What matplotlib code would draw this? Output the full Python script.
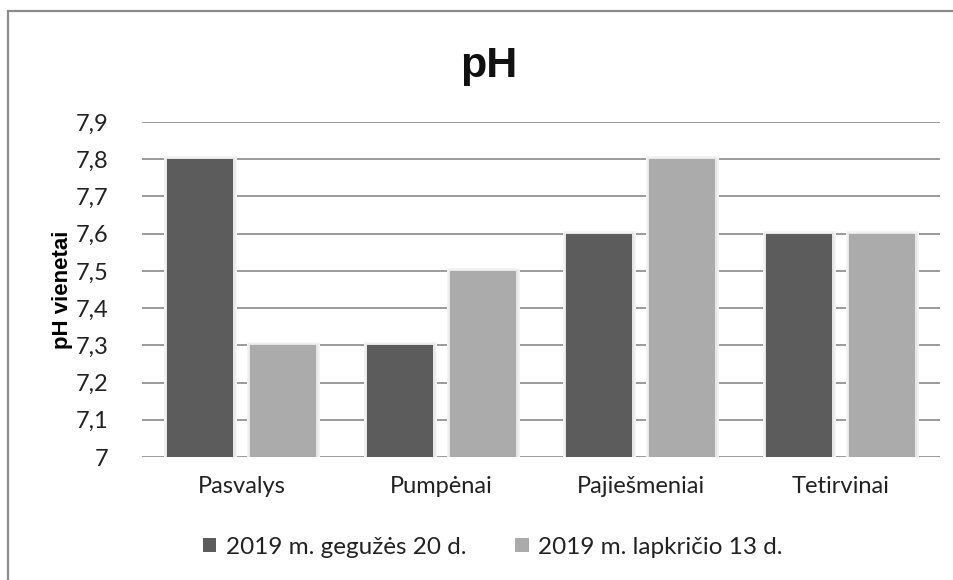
import matplotlib
matplotlib.use("Agg")
import matplotlib.pyplot as plt
import matplotlib.patheffects as pe
from matplotlib.patches import Rectangle, Patch
from matplotlib.ticker import FixedLocator, FuncFormatter
import numpy as np

categories = ["Pasvalys", "Pumpėnai", "Pajiešmeniai", "Tetirvinai"]
series_names = ["2019 m. gegužės 20 d.", "2019 m. lapkričio 13 d."]
may_values = [7.8, 7.3, 7.6, 7.6]
nov_values = [7.3, 7.5, 7.8, 7.6]
y_ticks = [7.0, 7.1, 7.2, 7.3, 7.4, 7.5, 7.6, 7.7, 7.8, 7.9]

colors = ["#5c5c5c", "#ababab"]
base = 7.0

fig = plt.figure(figsize=(9.54, 5.80), dpi=100)
fig.patch.set_facecolor("white")

# outer chart frame (only left and top edges fall inside the image)
fig.patches.append(Rectangle((8.5 / 954, -0.1), 1.2, 1 - 10.5 / 580 + 0.1,
                             transform=fig.transFigure, fill=False,
                             edgecolor="#8c8c8c", linewidth=1.6, zorder=0))

ax = fig.add_axes([142 / 954, 1 - 457 / 580, (940 - 142) / 954, (457 - 122) / 580])
ax.set_ylim(7.0, 7.9)
ax.set_xlim(-0.5, len(categories) - 0.5)

x = np.arange(len(categories))
bar_w = 0.33
gap = 0.085
offsets = [-(bar_w + gap) / 2, (bar_w + gap) / 2]

halo = [pe.Stroke(linewidth=5, foreground="#f4f4f4"),
        pe.Stroke(linewidth=2.5, foreground="#e6e6e6"),
        pe.Normal()]

for vals, off, col, name in zip([may_values, nov_values], offsets, colors, series_names):
    heights = [v - base for v in vals]
    bars = ax.bar(x + off, heights, width=bar_w, bottom=base, color=col,
                  edgecolor="none", zorder=3, label=name)
    for b in bars:
        b.set_path_effects(halo)

ax.yaxis.set_major_locator(FixedLocator(y_ticks))
ax.yaxis.set_major_formatter(FuncFormatter(lambda v, p: f"{v:.1f}".replace(".", ",").replace(",0", "")))
ax.grid(axis="y", color="#8a8a8a", linewidth=1.2, zorder=1)
ax.set_axisbelow(True)
for s in ax.spines.values():
    s.set_visible(False)
ax.tick_params(axis="both", length=0)
ax.tick_params(axis="y", pad=24, labelsize=17, labelcolor="#222222")
ax.tick_params(axis="x", pad=14, labelsize=17, labelcolor="#222222")
for lab in ax.get_yticklabels() + ax.get_xticklabels():
    lab.set_fontfamily("Lato")
ax.set_xticks(x)
ax.set_xticklabels(categories)

ax.set_ylabel("pH vienetai", fontsize=16, fontweight="bold",
              fontfamily="Liberation Sans", labelpad=2)

fig.text(489 / 954, 1 - 66 / 580, "pH", ha="center", va="center", fontsize=31,
         fontweight="bold", fontfamily="Liberation Sans", color="#111111")

handles = [Patch(facecolor=c, edgecolor="none") for c in colors]
leg = fig.legend(handles, series_names, loc="center", bbox_to_anchor=(493 / 954, 1 - 547 / 580),
                 ncol=2, frameon=False, prop={"family": "Lato", "size": 17.5},
                 handlelength=0.55, handleheight=0.55, handletextpad=0.4, columnspacing=2.0)
for t in leg.get_texts():
    t.set_color("#222222")

fig.savefig("out.png", dpi=100, facecolor="white")
